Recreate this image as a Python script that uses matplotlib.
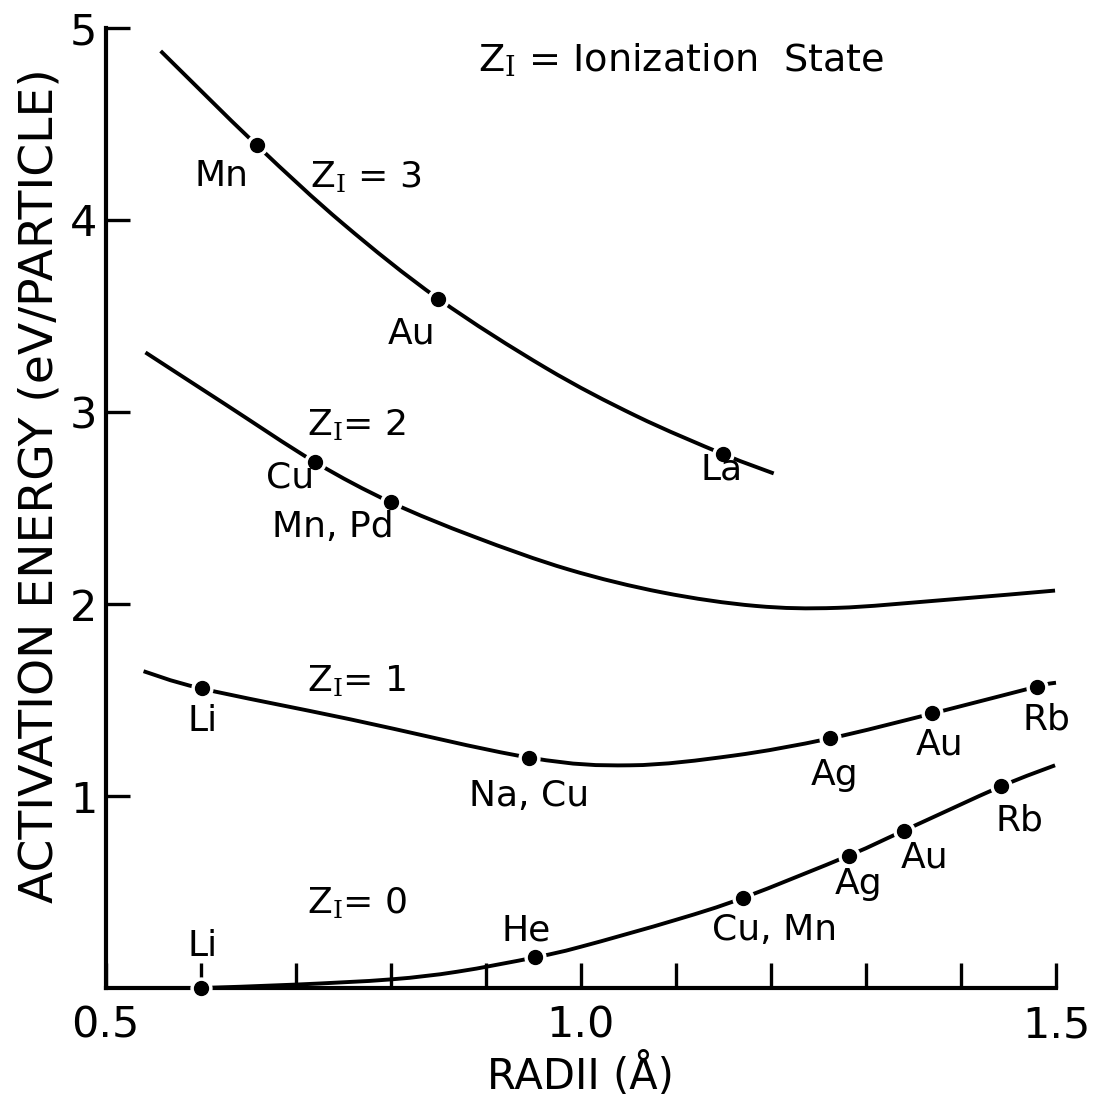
import matplotlib
matplotlib.use("Agg")
import matplotlib.pyplot as plt
from matplotlib.path import Path
from matplotlib.patches import PathPatch
from matplotlib.ticker import MultipleLocator

plt.rcParams['font.family'] = ['DejaVu Sans']
plt.rcParams['mathtext.fontset'] = 'dejavuserif'

# curve traces, Z_I = 3, 2, 1, 0
z3_x = [0.558, 0.659, 0.75, 0.85, 0.963, 1.058, 1.15, 1.203]
z3_y = [4.88, 4.39, 3.98, 3.59, 3.23, 2.98, 2.78, 2.68]

z2_x = [0.542, 0.626, 0.72, 0.80, 0.888, 0.987, 1.086, 1.184, 1.27, 1.38, 1.499]
z2_y = [3.31, 3.04, 2.74, 2.53, 2.35, 2.18, 2.06, 1.99, 1.98, 2.02, 2.07]

z1_x = [0.540, 0.601, 0.757, 0.946, 1.052, 1.16, 1.262, 1.37, 1.48, 1.50]
z1_y = [1.65, 1.56, 1.40, 1.20, 1.16, 1.21, 1.30, 1.43, 1.57, 1.59]

z0_x = [0.60, 0.70, 0.80, 0.87, 0.952, 1.0, 1.10, 1.171, 1.282, 1.34, 1.442, 1.499]
z0_y = [0.0, 0.018, 0.045, 0.085, 0.16, 0.215, 0.355, 0.47, 0.69, 0.82, 1.05, 1.16]

# measured elements on each curve
z3_pts_x = [0.659, 0.85, 1.15]
z3_pts_y = [4.39, 3.59, 2.78]
z3_names = ['Mn', 'Au', 'La']

z2_pts_x = [0.72, 0.80]
z2_pts_y = [2.74, 2.53]
z2_names = ['Cu', 'Mn, Pd']

z1_pts_x = [0.601, 0.946, 1.262, 1.37, 1.48]
z1_pts_y = [1.56, 1.20, 1.30, 1.43, 1.57]
z1_names = ['Li', 'Na, Cu', 'Ag', 'Au', 'Rb']

z0_pts_x = [0.60, 0.952, 1.171, 1.282, 1.34, 1.442]
z0_pts_y = [0.0, 0.16, 0.47, 0.69, 0.82, 1.05]
z0_names = ['Li', 'He', 'Cu, Mn', 'Ag', 'Au', 'Rb']

# where the element names sit
z3_lab = [(0.622, 4.23), (0.822, 3.41), (1.148, 2.70)]
z2_lab = [(0.694, 2.66), (0.739, 2.40)]
z1_lab = [(0.602, 1.39), (0.946, 1.00), (1.267, 1.11), (1.377, 1.27), (1.490, 1.40)]
z0_lab = [(0.602, 0.22), (0.943, 0.30), (1.204, 0.30), (1.292, 0.54), (1.362, 0.68), (1.462, 0.875)]


def smooth_path(xs, ys):
    # Catmull-Rom style cubic segments through the traced points
    pts = list(zip(xs, ys))
    verts = [pts[0]]
    codes = [Path.MOVETO]
    n = len(pts)
    for i in range(n - 1):
        p0 = pts[max(i - 1, 0)]
        p1 = pts[i]
        p2 = pts[i + 1]
        p3 = pts[min(i + 2, n - 1)]
        c1 = (p1[0] + (p2[0] - p0[0]) / 6, p1[1] + (p2[1] - p0[1]) / 6)
        c2 = (p2[0] - (p3[0] - p1[0]) / 6, p2[1] - (p3[1] - p1[1]) / 6)
        verts += [c1, c2, p2]
        codes += [Path.CURVE4] * 3
    return Path(verts, codes)


fig = plt.figure(figsize=(10.96, 10.96), dpi=100)
ax = fig.add_axes([0.0963, 0.0985, 0.8672, 0.876])

for cx, cy, px, py, names, labs in [
        (z3_x, z3_y, z3_pts_x, z3_pts_y, z3_names, z3_lab),
        (z2_x, z2_y, z2_pts_x, z2_pts_y, z2_names, z2_lab),
        (z1_x, z1_y, z1_pts_x, z1_pts_y, z1_names, z1_lab),
        (z0_x, z0_y, z0_pts_x, z0_pts_y, z0_names, z0_lab)]:
    ax.add_patch(PathPatch(smooth_path(cx, cy), fill=False, edgecolor='black',
                           lw=2.8, capstyle='butt', zorder=2, clip_on=False))
    ax.plot(px, py, 'o', color='white', ms=15, zorder=3, clip_on=False)
    ax.plot(px, py, 'o', color='black', ms=10, zorder=4, clip_on=False)
    for name, (lx, ly) in zip(names, labs):
        ax.text(lx, ly, name, fontsize=26, ha='center', va='center')

zl = r'Z$_{\mathrm{I}}$'
ax.text(0.715, 4.22, zl + ' = 3', fontsize=26, ha='left', va='center')
ax.text(0.712, 2.93, zl + '= 2', fontsize=26, ha='left', va='center')
ax.text(0.712, 1.60, zl + '= 1', fontsize=26, ha='left', va='center')
ax.text(0.712, 0.44, zl + '= 0', fontsize=26, ha='left', va='center')
ax.text(0.892, 4.83, zl + ' = Ionization  State', fontsize=27.5, ha='left', va='center')

ax.set_xlim(0.5, 1.5)
ax.set_ylim(0, 5)
ax.set_xticks([0.5, 1.0, 1.5])
ax.set_xticklabels(['0.5', '1.0', '1.5'])
ax.xaxis.set_minor_locator(MultipleLocator(0.1))
ax.set_yticks([1, 2, 3, 4, 5])

for side in ['top', 'right']:
    ax.spines[side].set_visible(False)
for side in ['left', 'bottom']:
    ax.spines[side].set_linewidth(3)

ax.tick_params(axis='both', which='both', direction='in', width=2.4, labelsize=31)
ax.tick_params(axis='x', which='both', length=18, pad=12)
ax.tick_params(axis='y', which='major', length=17, pad=6)

ax.set_xlabel('RADII (Å)', fontsize=30, va='baseline')
ax.xaxis.set_label_coords(0.5, -0.105)
ax.set_ylabel('ACTIVATION ENERGY (eV/PARTICLE)', fontsize=34, va='baseline')
ax.yaxis.set_label_coords(-0.056, 0.523)

fig.savefig('out.png', dpi=100)
